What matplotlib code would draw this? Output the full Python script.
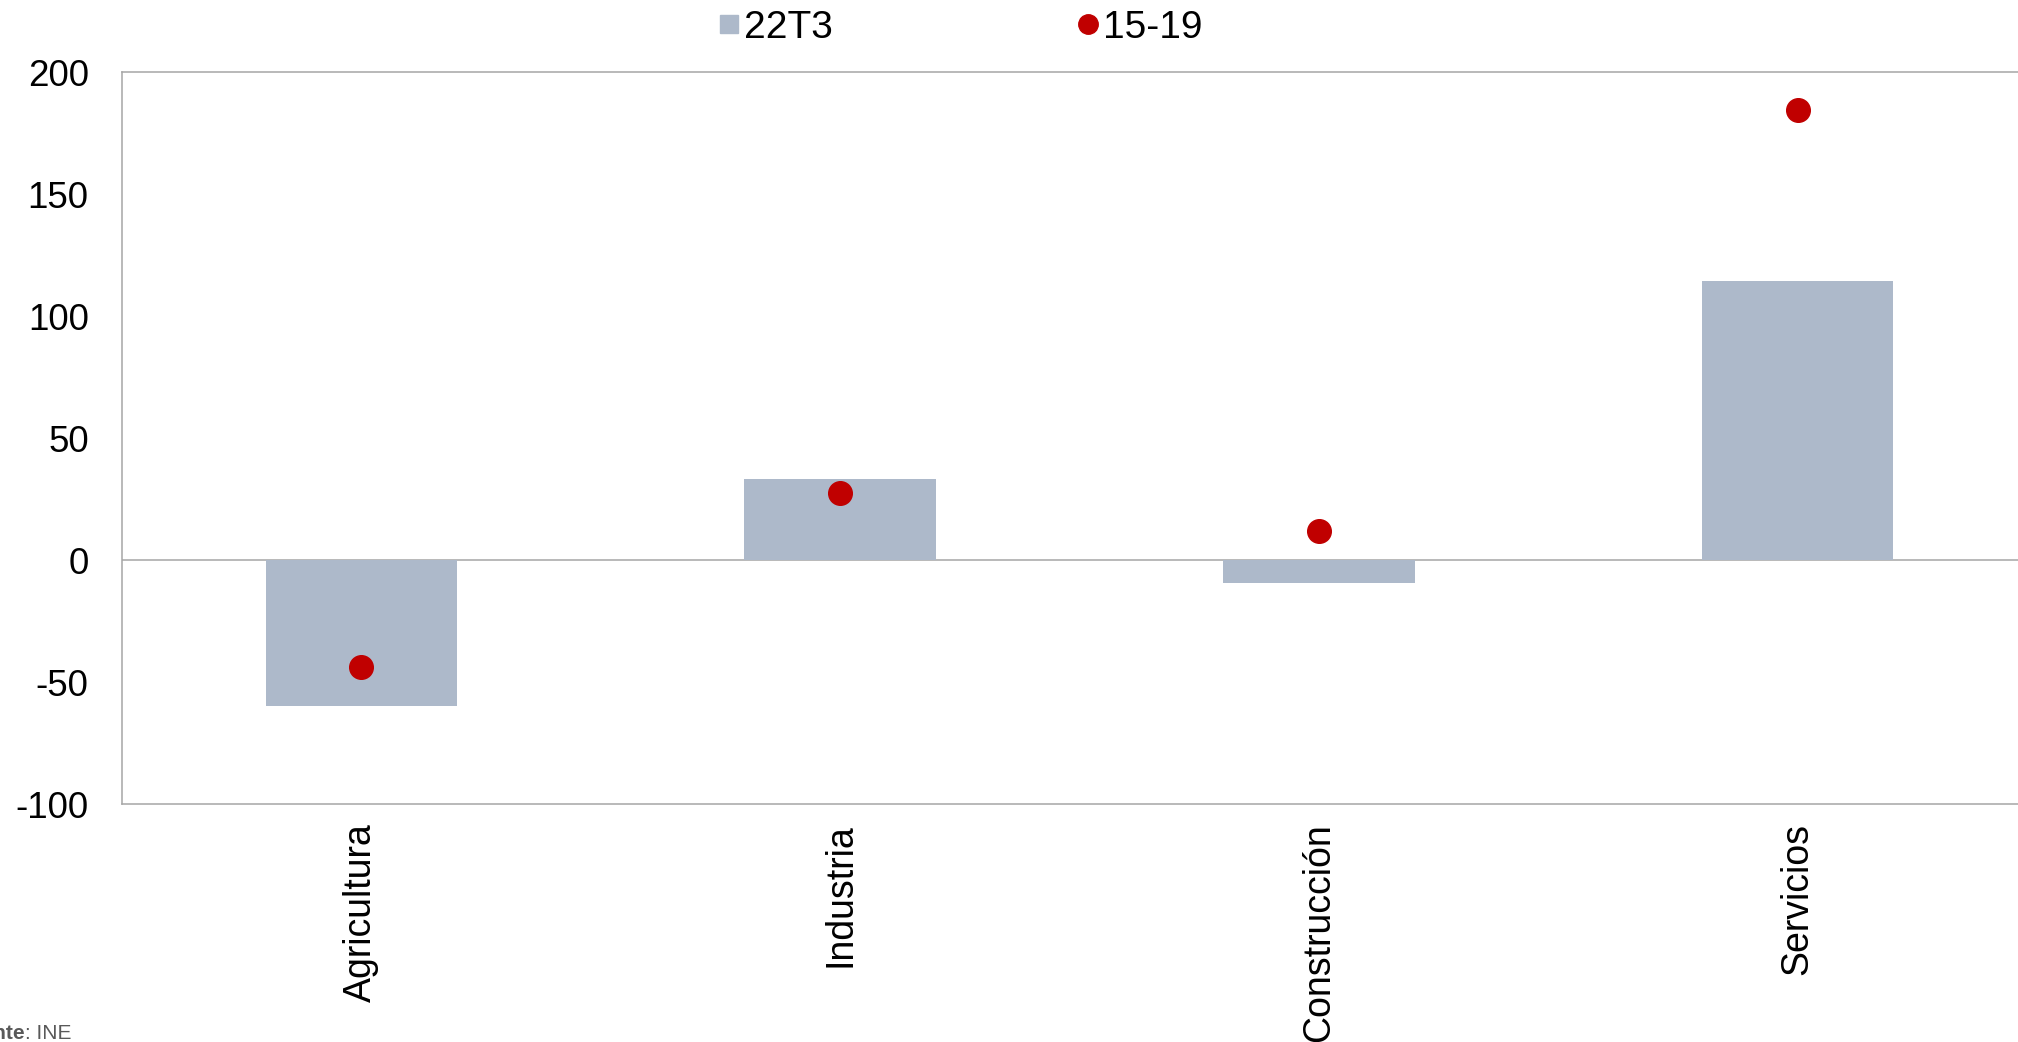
import matplotlib
matplotlib.use("Agg")
import matplotlib.pyplot as plt
from matplotlib.lines import Line2D

plt.rcParams['font.family'] = ['Liberation Sans', 'DejaVu Sans']

categories = ["Agricultura", "Industria", "Construcción", "Servicios"]
values_22T3 = [-60, 33, -9.5, 114.5]
values_15_19 = [-44, 27.5, 12, 184.5]
yticks = [-100, -50, 0, 50, 100, 150, 200]

bar_color = "#adb9ca"
dot_color = "#c00000"
grid_color = "#a6a6a6"

fig = plt.figure(figsize=(20.18, 10.42), dpi=100)
ax = fig.add_axes([122 / 2018, 238 / 1042, 1915 / 2018, 732 / 1042])

x = list(range(len(categories)))
ax.bar(x, values_22T3, width=0.4, color=bar_color, zorder=2)
ax.plot(x, values_15_19, linestyle="none", marker="o", markersize=17,
        color=dot_color, zorder=3)
ax.axhline(0, color=grid_color, linewidth=1.1, zorder=1)

ax.set_xlim(-0.5, 3.5)
ax.set_ylim(-100, 200)
ax.set_yticks(yticks)
ax.set_yticklabels([str(v) for v in yticks], fontsize=26.5)
ax.set_xticks(x)
ax.set_xticklabels(categories, rotation=90, fontsize=27)
ax.tick_params(axis="y", length=0, pad=24)
ax.tick_params(axis="x", length=0, pad=14)
for s in ax.spines.values():
    s.set_color(grid_color)
    s.set_linewidth(1.1)

handles = [
    Line2D([], [], linestyle="none", marker="s", markersize=13, color=bar_color),
    Line2D([], [], linestyle="none", marker="o", markersize=14, color=dot_color),
]
fig.legend(handles, ["22T3", "15-19"], loc="center", ncol=2,
           bbox_to_anchor=(961 / 2018, 1 - 28 / 1042), frameon=False,
           fontsize=28, handlelength=0.5, handletextpad=0.15,
           columnspacing=6.3, borderpad=0)

fig.text(25 / 2018, 3 / 1042, "Fuente", fontsize=15, fontweight="bold",
         color="#595959", ha="right", va="baseline")
fig.text(25 / 2018, 3 / 1042, ": INE", fontsize=15, color="#595959",
         ha="left", va="baseline")

fig.savefig("out.png", dpi=100)
